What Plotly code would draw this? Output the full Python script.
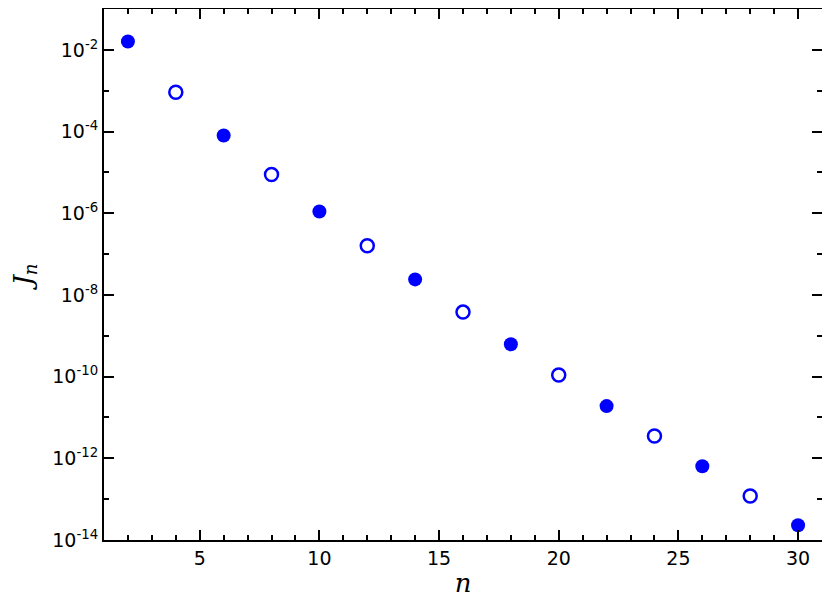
import plotly.graph_objects as go

n_even = [2, 4, 6, 8, 10, 12, 14, 16, 18, 20, 22, 24, 26, 28, 30]
J_n = [1.6e-2, 9.2e-4, 8.0e-5, 8.9e-6, 1.1e-6, 1.6e-7, 2.4e-8, 3.8e-9,
       6.2e-10, 1.1e-10, 1.9e-11, 3.5e-12, 6.4e-13, 1.2e-13, 2.3e-14]

x_tick_vals = [5, 10, 15, 20, 25, 30]
y_tick_exps = [-14, -12, -10, -8, -6, -4, -2]

filled_x = [n for i, n in enumerate(n_even) if i % 2 == 0]
filled_y = [v for i, v in enumerate(J_n) if i % 2 == 0]
open_x = [n for i, n in enumerate(n_even) if i % 2 == 1]
open_y = [v for i, v in enumerate(J_n) if i % 2 == 1]

fig = go.Figure()
fig.add_trace(go.Scatter(x=filled_x, y=filled_y, mode="markers",
                         marker=dict(symbol="circle", size=14, color="#0000ff",
                                     line=dict(width=0)), showlegend=False))
fig.add_trace(go.Scatter(x=open_x, y=open_y, mode="markers",
                         marker=dict(symbol="circle-open", size=13, color="#0000ff",
                                     line=dict(width=2.5, color="#0000ff")), showlegend=False))

axis_common = dict(showgrid=False, zeroline=False, showline=True, linecolor="black",
                   linewidth=2, mirror="allticks", ticks="inside", tickcolor="black",
                   tickwidth=2, ticklen=10, automargin=False)

fig.update_xaxes(range=[1, 31], tickvals=x_tick_vals,
                 ticktext=[str(v) for v in x_tick_vals],
                 minor=dict(dtick=1, ticks="inside", ticklen=5, tickwidth=2, tickcolor="black"),
                 tickfont=dict(family="DejaVu Sans", size=19, color="black"),
                 title=dict(text="<i>n</i>", font=dict(family="DejaVu Serif", size=26, color="black"),
                            standoff=6),
                 **axis_common)
fig.update_yaxes(type="log", range=[-14, -1],
                 tickvals=[10.0 ** e for e in y_tick_exps],
                 ticktext=["10<sup>%d</sup>" % e for e in y_tick_exps],
                 minor=dict(tickvals=[10.0 ** e for e in range(-13, 0, 2)], ticks="inside",
                            ticklen=5, tickwidth=2, tickcolor="black"),
                 tickfont=dict(family="DejaVu Sans", size=19, color="black"),
                 title=dict(text="<i>J<sub>n</sub></i>", font=dict(family="DejaVu Serif", size=26, color="black"),
                            standoff=16),
                 **axis_common)

fig.update_layout(width=822, height=599, plot_bgcolor="white", paper_bgcolor="white",
                  margin=dict(l=96, r=8, t=1, b=67), showlegend=False)

fig.write_html("out.html")
